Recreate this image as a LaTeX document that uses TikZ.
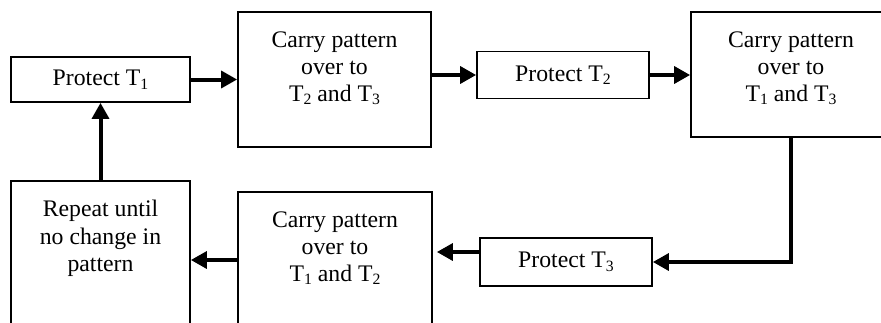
\documentclass[tikz,border=0pt]{standalone}
\usepackage{fontspec}
\setmainfont{Liberation Serif}
\usetikzlibrary{arrows.meta}
\newcommand\myfs{\fontsize{17.8pt}{20.3pt}\selectfont}
\newcommand\mysub[1]{\raisebox{-2.6pt}{\fontsize{11.8pt}{12pt}\selectfont #1}}
\begin{document}
\begin{tikzpicture}[x=0.75pt,y=-0.75pt,
  box/.style={draw, line width=1.2pt, inner sep=0pt, font=\myfs, align=center},
  lbl/.style={align=center, font=\myfs, inner sep=0pt, anchor=north, yshift=-15pt},
  arr/.style={line width=3pt, -{Triangle[length=12pt,width=12.5pt]}}]
\useasboundingbox (0,0) rectangle (881,322);
\clip (0,0) rectangle (881,322);
\fill[white] (0,0) rectangle (881,322);
\node[box, minimum width=134.25pt, minimum height=33.75pt] (A) at (100.5,79.5) {Protect T\mysub{1}};
\node[box, minimum width=144.75pt, minimum height=101.25pt,
  label={[lbl]north:Carry pattern\\over to\\T\mysub{2} and T\mysub{3}}] (B) at (334.5,79.5) {};
\node[box, minimum width=129pt, minimum height=35.25pt] (C) at (563,75) {Protect T\mysub{2}};
\node[box, minimum width=150pt, minimum height=93.75pt,
  label={[lbl]north:Carry pattern\\over to\\T\mysub{1} and T\mysub{3}}] (D) at (791,74.5) {};
\node[box, minimum width=129pt, minimum height=36pt] (E) at (566,262) {Protect T\mysub{3}};
\node[box, minimum width=145.5pt, minimum height=102pt,
  label={[lbl]north:Carry pattern\\over to\\T\mysub{1} and T\mysub{2}}] (F) at (335,260) {};
\node[box, minimum width=134.25pt, minimum height=118.5pt,
  label={[lbl]north:Repeat until\\no change in\\pattern}] (G) at (100.5,260) {};
\draw[arr] (A.east) -- (B.west |- A.east);
\draw[arr] (B.east |- C.west) -- (C.west);
\draw[arr] (C.east) -- (C.east -| D.west);
\draw[arr] (D.south) |- (E.east);
\draw[arr, shorten >=3pt] ([yshift=7.5pt]E.west) -- ([yshift=7.5pt]E.west -| F.east);
\draw[arr] (F.west) -- (G.east);
\draw[arr] (G.north) -- (A.south);
\end{tikzpicture}
\end{document}
